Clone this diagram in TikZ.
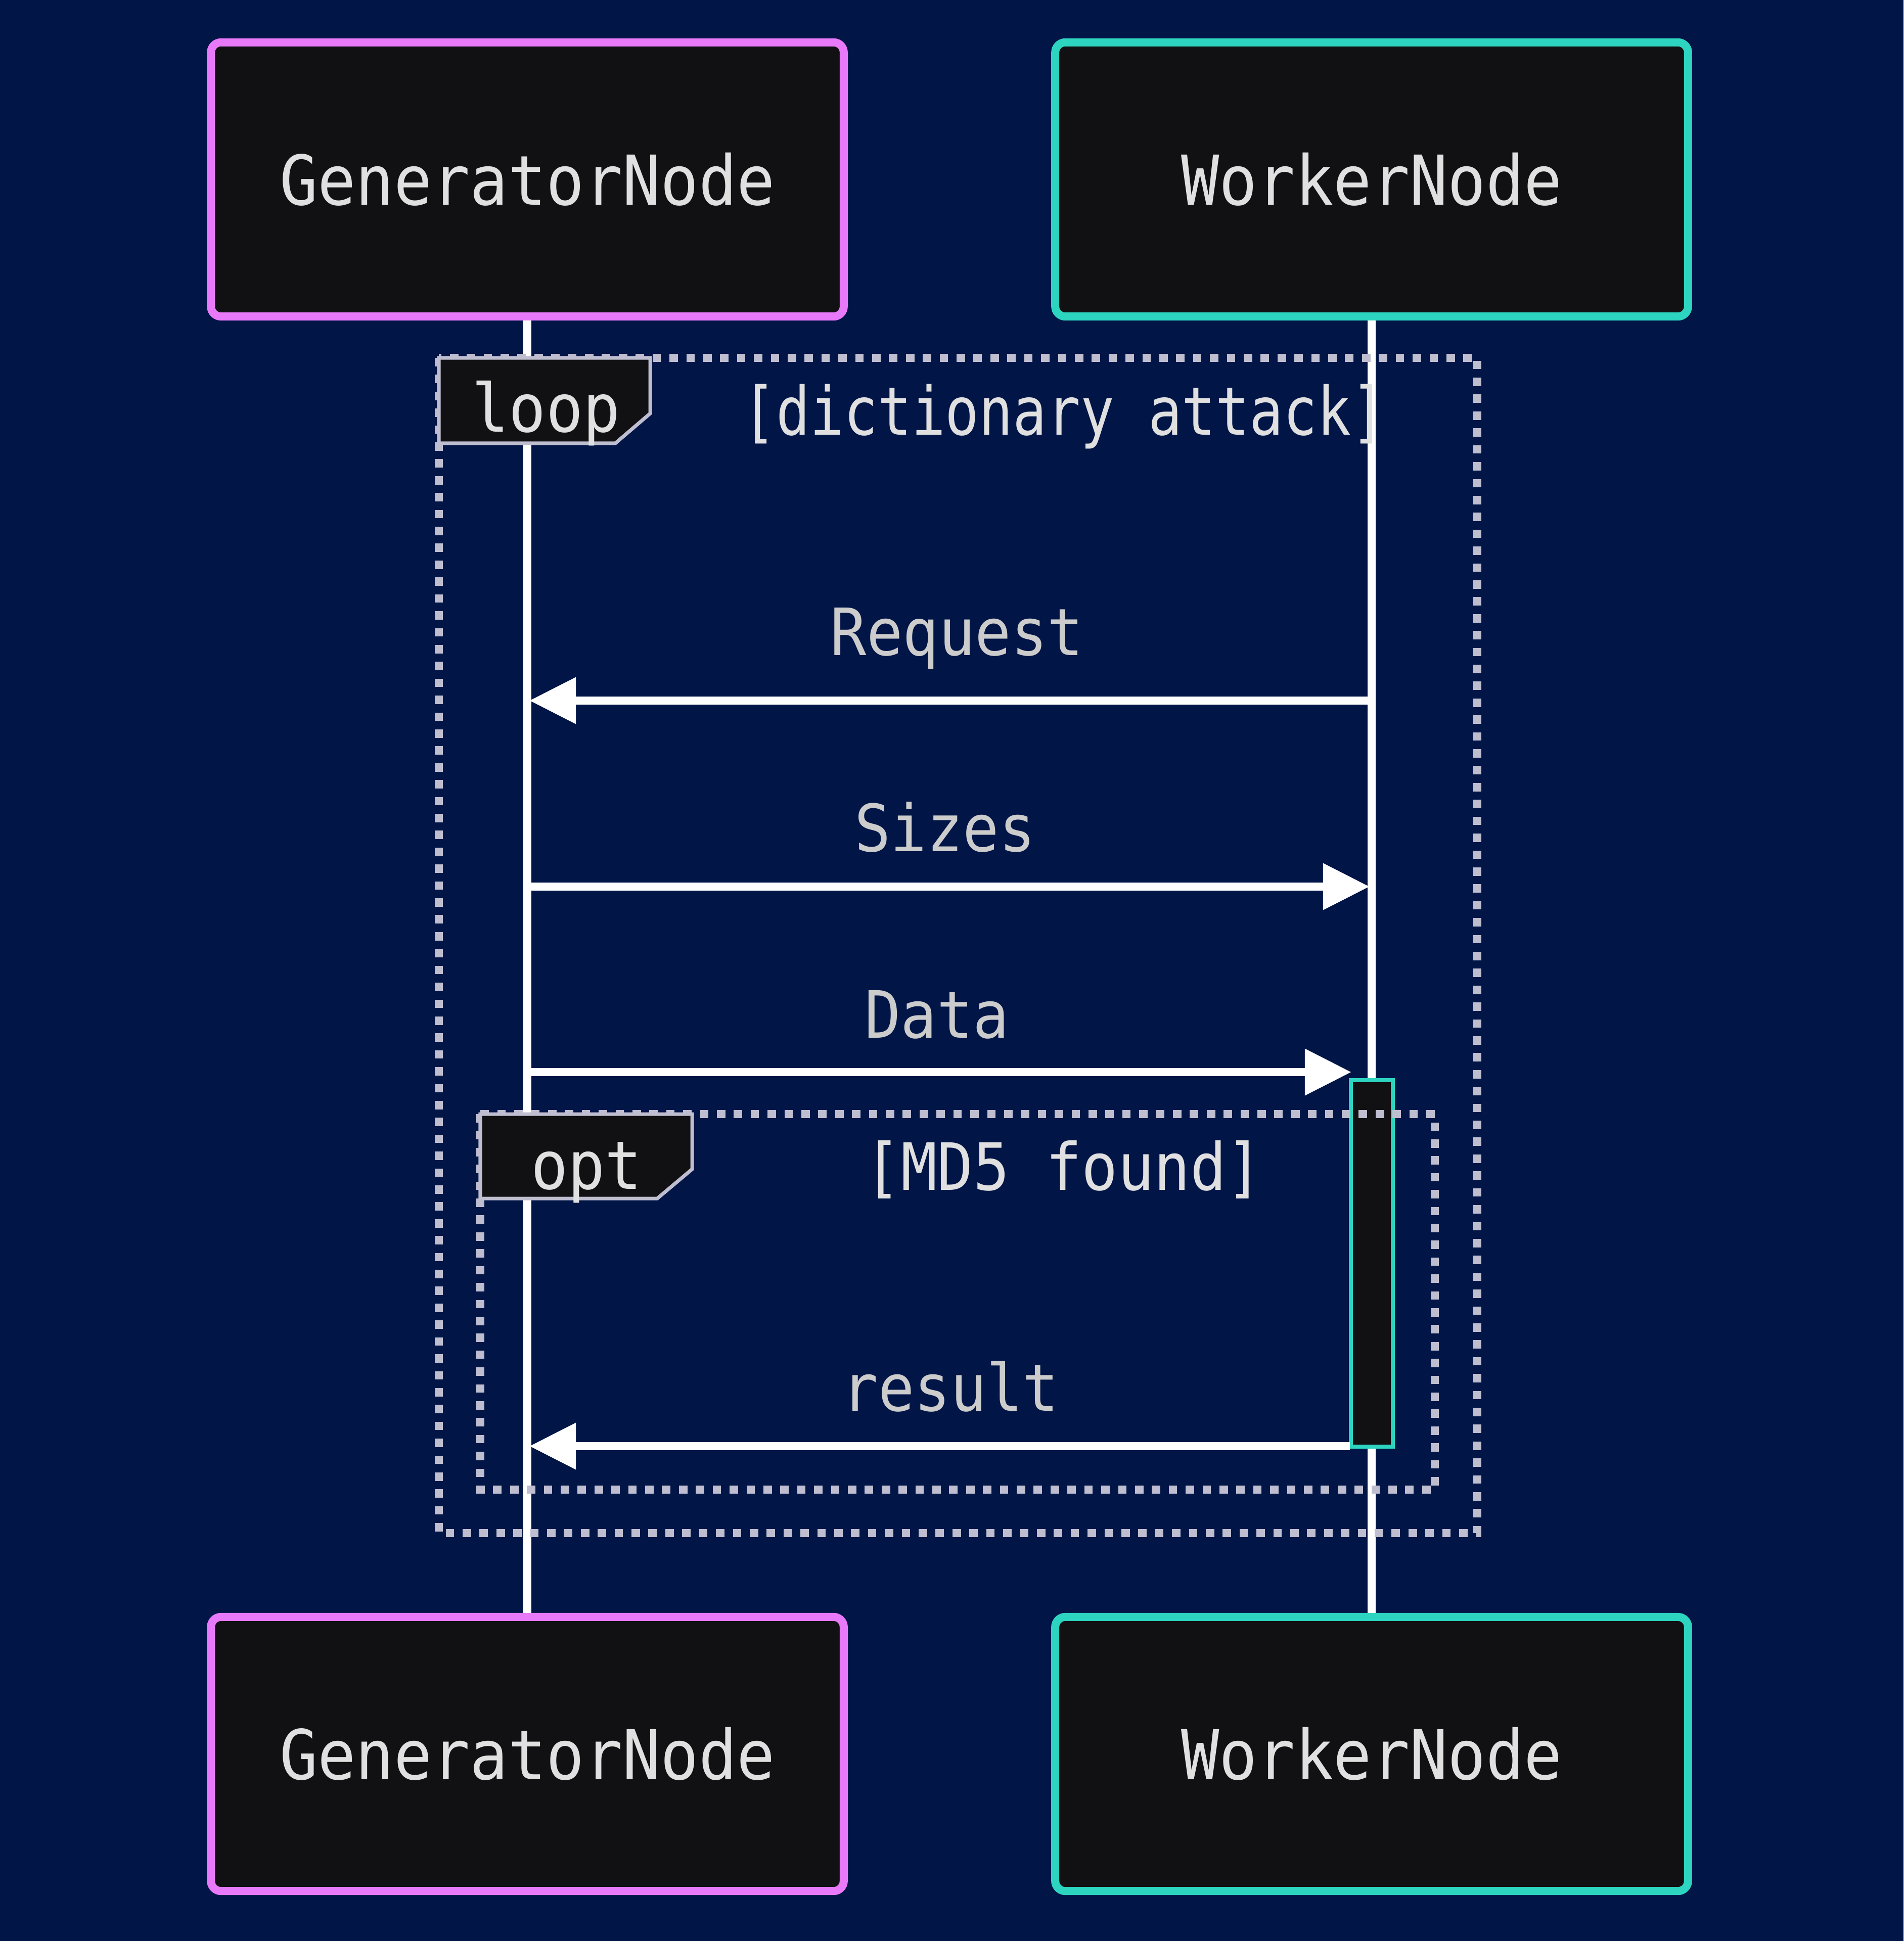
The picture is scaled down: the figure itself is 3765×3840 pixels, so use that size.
\documentclass[tikz,border=0pt]{standalone}
\usepackage{fontspec}
\setmainfont{DejaVu Sans Mono}[FakeStretch=0.92]
\newfontfamily\condfont{DejaVu Sans Mono}[FakeStretch=0.84]
\usetikzlibrary{arrows.meta}
\definecolor{bg}{RGB}{1,21,71}
\definecolor{boxfill}{RGB}{17,17,19}
\definecolor{pinkc}{RGB}{232,121,249}
\definecolor{tealc}{RGB}{45,212,191}
\definecolor{txt}{RGB}{224,224,224}
\definecolor{msgtxt}{RGB}{204,204,204}
\definecolor{framec}{RGB}{190,190,208}
\tikzset{
  actor/.style={draw, fill=boxfill, line width=4.55pt, rounded corners=0.2cm,
    minimum width=12.51cm, minimum height=5.42cm, inner sep=0pt,
    text=txt, font=\fontsize{38.7pt}{46pt}\selectfont},
  genactor/.style={actor, draw=pinkc},
  wrkactor/.style={actor, draw=tealc},
  lifeline/.style={draw=white, line width=4.8pt},
  msg/.style={draw=white, line width=4.8pt, -{Triangle[length=0.92cm, width=0.88cm]}},
  msglabel/.style={text=msgtxt, anchor=base, inner sep=0pt, font=\fontsize{36.7pt}{44pt}\selectfont},
  fragframe/.style={draw=framec, line width=4.55pt, dash pattern=on 4.75pt off 4.75pt},
  fraglabelbox/.style={draw=framec, fill=boxfill, line width=2pt},
  fragtext/.style={text=txt, anchor=base, inner sep=0pt, font=\fontsize{36.7pt}{44pt}\selectfont},
  activation/.style={draw=tealc, fill=boxfill, line width=2.3pt}
}
\begin{document}
\begin{tikzpicture}[x=0.01cm,y=-0.01cm]
\fill[bg] (0,0) rectangle (3765,3840);
\useasboundingbox (0,0) rectangle (3765,3840);

% participants
\node[genactor] (gTop) at (1043,355) {GeneratorNode};
\node[wrkactor] (wTop) at (2713,355) {WorkerNode};
\node[genactor] (gBot) at (1043,3470) {GeneratorNode};
\node[wrkactor] (wBot) at (2713,3470) {WorkerNode};

% lifelines
\draw[lifeline] (gTop.south) -- (gBot.north);
\draw[lifeline] (wTop.south) -- (wBot.north);

% activation
\draw[activation] (2672,2137) rectangle (2755,2862);

% loop frame
\draw[fragframe] (868,708) rectangle (2922,3033);
\draw[fraglabelbox] (868,708) -- (1286,708) -- (1286,818) -- (1217,877) -- (868,877) -- cycle;
\node[fragtext, font=\fontsize{37.6pt}{44pt}\selectfont] (loopLbl) at (1080,854) {loop};
\node[fragtext, font=\condfont\fontsize{37.6pt}{44pt}\selectfont] (loopCond) at (2104,860) {[dictionary attack]};

% opt frame
\draw[fragframe] (950,2204) rectangle (2838,2947);
\draw[fraglabelbox] (950,2204) -- (1369,2204) -- (1369,2313) -- (1300,2371) -- (950,2371) -- cycle;
\node[fragtext, font=\fontsize{37.6pt}{44pt}\selectfont] (optLbl) at (1160,2352) {opt};
\node[fragtext] (optCond) at (2104,2354) {[MD5 found]};

% message coordinates
\coordinate (wReq) at (2713,1386);
\coordinate (gReq) at (1047,1386);
\coordinate (gSiz) at (1043,1754);
\coordinate (wSiz) at (2709,1754);
\coordinate (gDat) at (1043,2121);
\coordinate (wDat) at (2673,2121);
\coordinate (aRes) at (2670,2861);
\coordinate (gRes) at (1047,2861);

% messages
\draw[msg] (wReq) -- (gReq);
\node[msglabel] (lReq) at (1893,1296) {Request};
\draw[msg] (gSiz) -- (wSiz);
\node[msglabel] (lSiz) at (1869,1684) {Sizes};
\draw[msg] (gDat) -- (wDat);
\node[msglabel] (lDat) at (1853,2053) {Data};
\draw[msg] (aRes) -- (gRes);
\node[msglabel] (lRes) at (1880,2791) {result};
\end{tikzpicture}
\end{document}
